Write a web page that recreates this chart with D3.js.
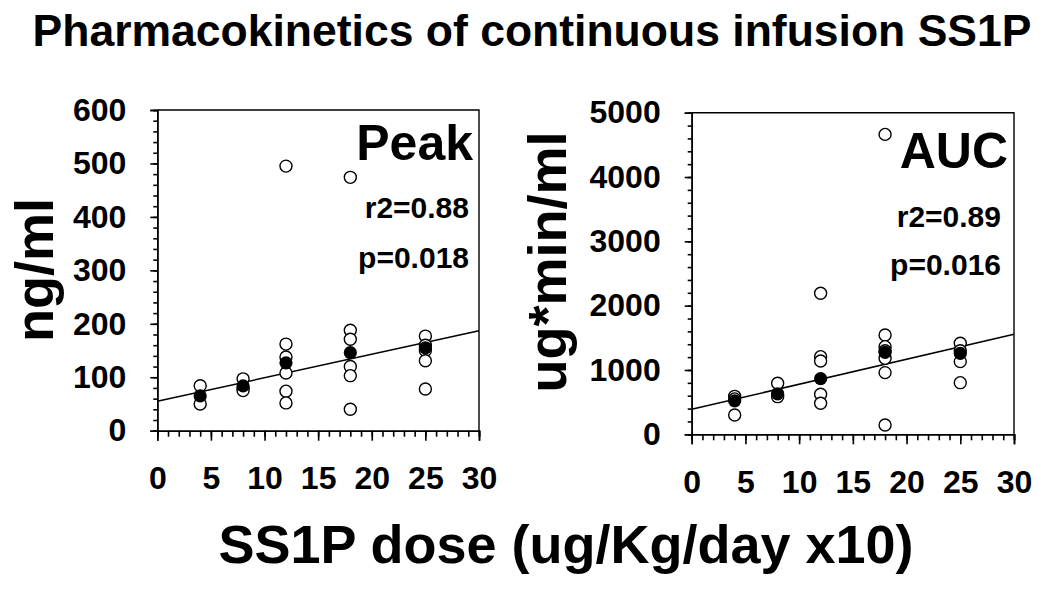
<!DOCTYPE html>
<html>
<head>
<meta charset="utf-8">
<script src="https://cdn.jsdelivr.net/npm/d3@7"></script>
<style>
  body { margin: 0; background: #fff; }
  text { font-family: Arial, "Liberation Sans", sans-serif; font-weight: bold; fill: #000; }
</style>
</head>
<body>
<div id="chart-area"></div>
<script>
// Data
const doses = [4, 8, 12, 18, 25]

const peakPoints = [
	[84, 50],
	[97, 80, 75],
	[495, 162, 138, 108, 74, 52],
	[474, 188, 171, 120, 103, 40],
	[177, 160, 150, 131, 78]
]
const peakMeans = [65, 84, 127, 146, 155]
const peakFit = [55, 187]          // fitted value at dose 0 and dose 30

const aucPoints = [
	[590, 550, 300],
	[793, 610, 585],
	[2192, 1207, 1140, 622, 482],
	[4663, 1544, 1363, 1300, 1181, 959, 145],
	[1415, 1300, 1130, 803]
]
const aucMeans = [520, 630, 865, 1275, 1259]
const aucFit = [390, 1555]

const xTicks = [0, 5, 10, 15, 20, 25, 30]
const peakTicks = [0, 100, 200, 300, 400, 500, 600]
const aucTicks = [0, 1000, 2000, 3000, 4000, 5000]

const svg = d3.select("#chart-area").append("svg")
	.attr("width", 1050)
	.attr("height", 591)

// Title and shared x label
svg.append("text")
	.attr("x", 532)
	.attr("y", 46)
	.attr("font-size", "44.5px")
	.attr("text-anchor", "middle")
	.text("Pharmacokinetics of continuous infusion SS1P")

svg.append("text")
	.attr("x", 566)
	.attr("y", 563)
	.attr("font-size", "54px")
	.attr("text-anchor", "middle")
	.text("SS1P dose (ug/Kg/day x10)")

function drawPanel(p) {
	const W = p.right - p.left
	const H = p.bottom - p.top
	const g = svg.append("g")
		.attr("transform", `translate(${p.left}, ${p.top})`)

	const x = d3.scaleLinear().domain([0, 30]).range([0, W])
	const y = d3.scaleLinear().domain([0, p.yMax]).range([H, 0])

	// minor ticks
	g.append("g")
		.attr("transform", `translate(0, ${H})`)
		.call(d3.axisBottom(x).tickValues(d3.range(0, 31, 1)).tickSize(6).tickFormat(""))
	g.append("g")
		.call(d3.axisLeft(y).tickValues(d3.range(0, p.yMax + 1, p.yMinor)).tickSize(4).tickFormat(""))

	// major ticks + labels
	const xAxis = g.append("g")
		.attr("transform", `translate(0, ${H})`)
		.call(d3.axisBottom(x).tickValues(xTicks).tickSize(10).tickPadding(26).tickFormat(d3.format("d")))
	const yAxis = g.append("g")
		.call(d3.axisLeft(y).tickValues(p.yTicks).tickSize(7).tickPadding(24).tickFormat(d3.format("d")))

	g.selectAll(".domain, .tick line")
		.attr("stroke", "#000")
		.attr("stroke-width", 1.6)
	xAxis.selectAll("text").attr("font-size", "32px").attr("font-family", null)
	yAxis.selectAll("text").attr("font-size", "32px").attr("font-family", null)

	// frame top/right
	g.append("path")
		.attr("d", `M0,0H${W}V${H}`)
		.attr("fill", "none")
		.attr("stroke", "#000")
		.attr("stroke-width", 1.4)

	// regression line
	g.append("line")
		.attr("x1", x(0)).attr("y1", y(p.fit[0]))
		.attr("x2", x(30)).attr("y2", y(p.fit[1]))
		.attr("stroke", "#000")
		.attr("stroke-width", 1.5)

	// individual points
	const flat = []
	p.points.forEach((vals, i) => vals.forEach(v => flat.push({ dose: doses[i], v: v })))
	g.selectAll(".indiv")
		.data(flat)
		.enter().append("circle")
		.attr("class", "indiv")
		.attr("cx", d => x(d.dose))
		.attr("cy", d => y(d.v))
		.attr("r", 6)
		.attr("fill", "#fff")
		.attr("stroke", "#000")
		.attr("stroke-width", 1.4)

	// means
	g.selectAll(".mean")
		.data(p.means)
		.enter().append("circle")
		.attr("class", "mean")
		.attr("cx", (d, i) => x(doses[i]))
		.attr("cy", d => y(d))
		.attr("r", 6.6)
		.attr("fill", "#000")

	// y label
	svg.append("text")
		.attr("transform", `translate(${p.labelX}, ${p.labelY}) rotate(-90)`)
		.attr("font-size", "54px")
		.attr("text-anchor", "middle")
		.text(p.yLabel)

	// annotations
	svg.append("text")
		.attr("x", p.annoX).attr("y", p.annoY[0])
		.attr("font-size", "50px")
		.attr("text-anchor", "end")
		.text(p.name)
	svg.append("text")
		.attr("x", p.statX).attr("y", p.annoY[1])
		.attr("font-size", "30px")
		.attr("text-anchor", "end")
		.text(p.r2)
	svg.append("text")
		.attr("x", p.statX).attr("y", p.annoY[2])
		.attr("font-size", "30px")
		.attr("text-anchor", "end")
		.text(p.pval)
}

drawPanel({
	left: 157.3, right: 479, top: 110, bottom: 430.7,
	yMax: 600, yMinor: 20, yTicks: peakTicks,
	points: peakPoints, means: peakMeans, fit: peakFit,
	yLabel: "ng/ml", labelX: 53, labelY: 270,
	name: "Peak", r2: "r2=0.88", pval: "p=0.018",
	annoX: 473, statX: 469, annoY: [160, 218, 268]
})

drawPanel({
	left: 691.7, right: 1014, top: 112.7, bottom: 434.3,
	yMax: 5000, yMinor: 200, yTicks: aucTicks,
	points: aucPoints, means: aucMeans, fit: aucFit,
	yLabel: "ug*min/ml", labelX: 566, labelY: 262,
	name: "AUC", r2: "r2=0.89", pval: "p=0.016",
	annoX: 1008, statX: 1001, annoY: [168, 227, 275]
})
</script>
</body>
</html>
